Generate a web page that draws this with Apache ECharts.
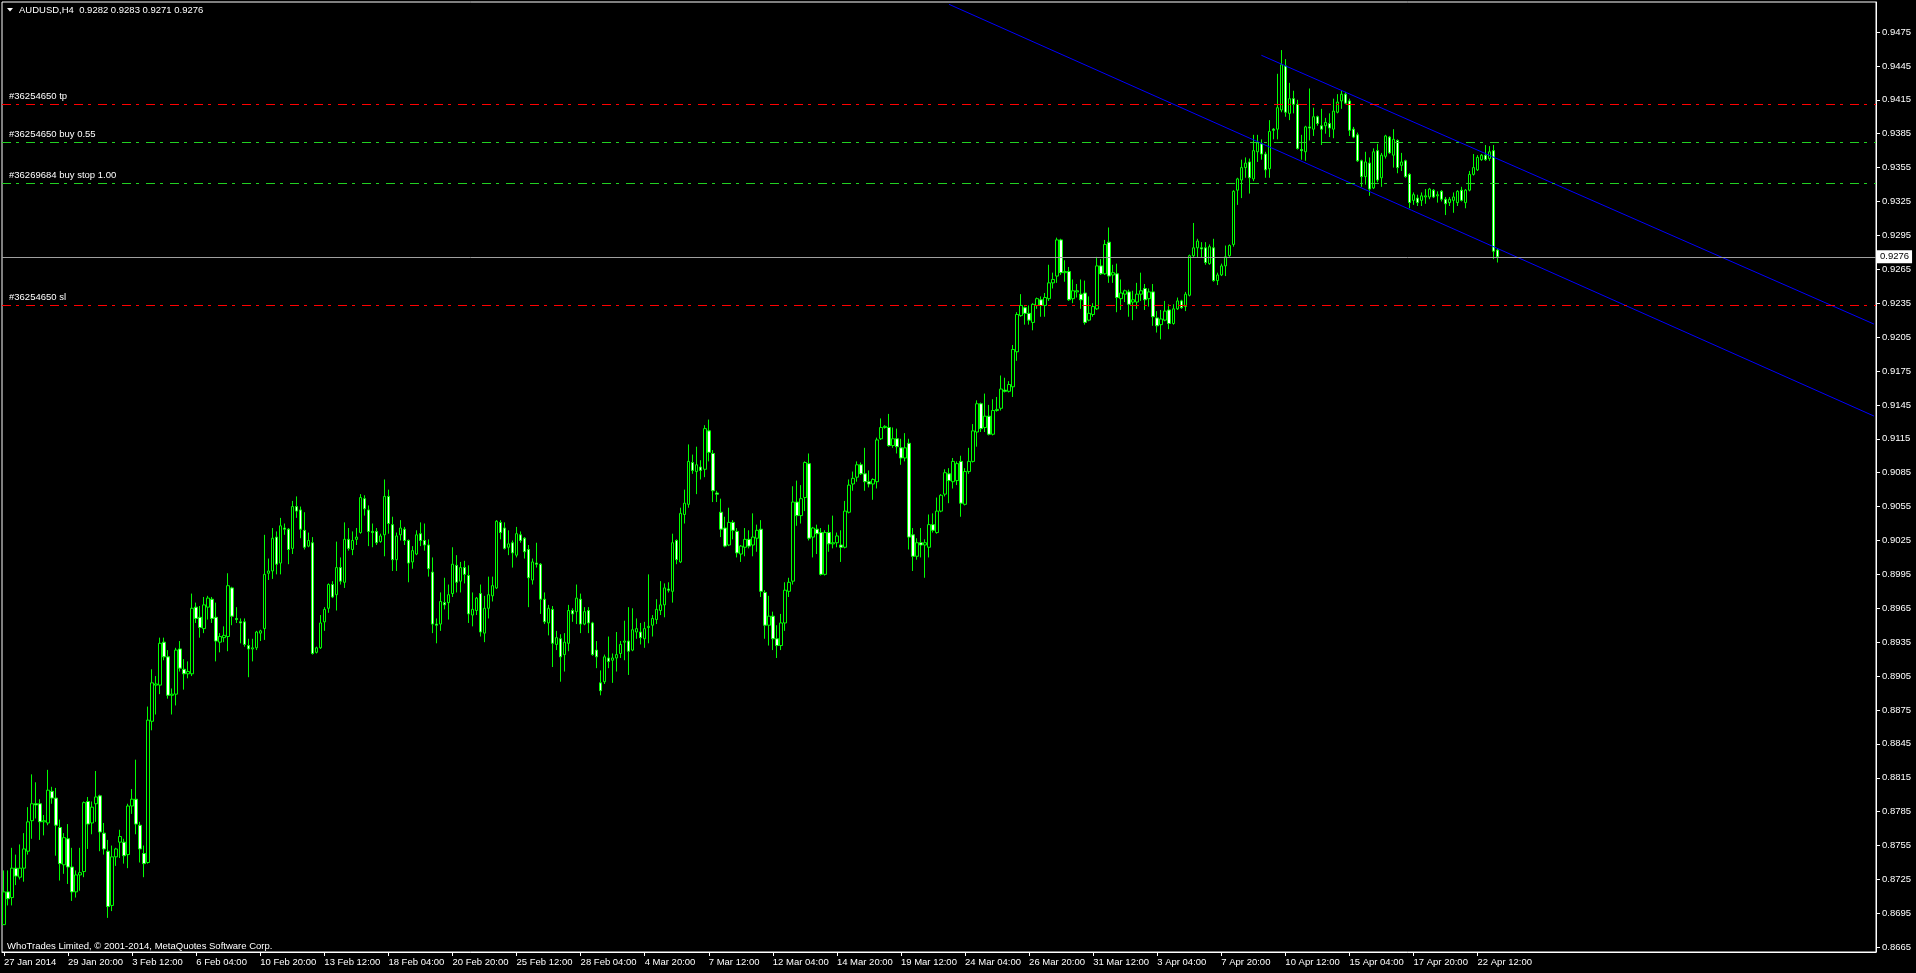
<!DOCTYPE html>
<html><head><meta charset="utf-8">
<script src="https://cdn.jsdelivr.net/npm/echarts@6/dist/echarts.min.js"></script>
<style>html,body{margin:0;padding:0;background:#000;overflow:hidden}#c{width:1916px;height:973px}</style>
</head><body><div id="c"></div>
<script>
const symbolName = 'AUDUSD,H4';
const copyright = 'WhoTrades Limited, \u00a9 2001-2014, MetaQuotes Software Corp.';

const opens = [
0.8685,0.8714,0.8709,0.8735,0.8727,0.8735,0.8750,0.8777,0.8792,0.8792,
0.8776,0.8775,0.8803,0.8797,0.8771,0.8738,0.8761,0.8736,0.8714,0.8729,
0.8732,0.8794,0.8775,0.8792,0.8799,0.8766,0.8750,0.8702,0.8745,0.8758,
0.8758,0.8747,0.8790,0.8796,0.8773,0.8748,0.8740,0.8865,0.8897,0.8897,
0.8935,0.8922,0.8888,0.8889,0.8929,0.8911,0.8907,0.8907,0.8966,0.8957,
0.8947,0.8966,0.8973,0.8957,0.8935,0.8939,0.8940,0.8983,0.8956,0.8953,
0.8953,0.8932,0.8929,0.8930,0.8943,0.8947,0.8996,0.8998,0.9028,0.9005,
0.9036,0.9035,0.9018,0.9055,0.9052,0.9034,0.9020,0.9023,0.8926,0.8930,
0.8953,0.8965,0.8986,0.8977,0.9001,0.8988,0.9026,0.9017,0.9026,0.9032,
0.9062,0.9052,0.9033,0.9033,0.9024,0.9030,0.9064,0.9039,0.9008,0.9030,
0.9035,0.9025,0.9006,0.9013,0.9031,0.9025,0.9021,0.8997,0.8951,0.8951,
0.8970,0.8970,0.8978,0.9003,0.8989,0.9001,0.8994,0.8959,0.8963,0.8978,
0.8943,0.8965,0.8976,0.8983,0.9041,0.9036,0.9019,0.9023,0.9012,0.9030,
0.9027,0.9017,0.8990,0.9005,0.9004,0.8973,0.8952,0.8964,0.8933,0.8938,
0.8924,0.8934,0.8963,0.8962,0.8973,0.8951,0.8963,0.8952,0.8928,0.8899,
0.8900,0.8921,0.8919,0.8921,0.8925,0.8935,0.8936,0.8928,0.8944,0.8944,
0.8938,0.8948,0.8950,0.8955,0.8963,0.8968,0.8982,0.8980,0.9025,0.9006,
0.9048,0.9057,0.9094,0.9086,0.9090,0.9088,0.9122,0.9102,0.9067,0.9050,
0.9036,0.9021,0.9041,0.9033,0.9013,0.9019,0.9026,0.9021,0.9027,0.9035,
0.8979,0.8950,0.8958,0.8938,0.8932,0.8952,0.8980,0.8989,0.9059,0.9047,
0.9063,0.9093,0.9028,0.9035,0.9032,0.8995,0.9032,0.9022,0.9023,0.9021,
0.9019,0.9050,0.9075,0.9081,0.9092,0.9084,0.9077,0.9075,0.9077,0.9115,
0.9125,0.9125,0.9109,0.9115,0.9107,0.9098,0.9111,0.9030,0.9011,0.9023,
0.9021,0.9019,0.9039,0.9032,0.9051,0.9066,0.9084,0.9077,0.9078,0.9095,
0.9057,0.9086,0.9095,0.9121,0.9146,0.9125,0.9135,0.9119,0.9140,0.9142,
0.9158,0.9157,0.9161,0.9192,0.9224,0.9231,0.9226,0.9218,0.9233,0.9238,
0.9233,0.9239,0.9253,0.9259,0.9291,0.9262,0.9263,0.9239,0.9245,0.9243,
0.9244,0.9220,0.9225,0.9230,0.9268,0.9261,0.9289,0.9260,0.9261,0.9239,
0.9243,0.9245,0.9236,0.9236,0.9243,0.9248,0.9239,0.9245,0.9222,0.9216,
0.9220,0.9229,0.9217,0.9230,0.9237,0.9232,0.9242,0.9277,0.9284,0.9284,
0.9284,0.9270,0.9284,0.9255,0.9260,0.9268,0.9277,0.9287,0.9335,0.9344,
0.9355,0.9360,0.9345,0.9369,0.9376,0.9367,0.9354,0.9389,0.9389,0.9406,
0.9445,0.9403,0.9416,0.9411,0.9371,0.9369,0.9391,0.9389,0.9400,0.9392,
0.9392,0.9394,0.9389,0.9404,0.9414,0.9420,0.9414,0.9389,0.9384,0.9361,
0.9347,0.9359,0.9337,0.9370,0.9346,0.9365,0.9382,0.9366,0.9379,0.9357,
0.9361,0.9349,0.9326,0.9328,0.9326,0.9329,0.9329,0.9335,0.9330,0.9334,
0.9327,0.9324,0.9326,0.9324,0.9335,0.9324,0.9335,0.9349,0.9353,0.9362,
0.9366,0.9363,0.9370,0.9282];

const closes = [
0.8714,0.8708,0.8735,0.8728,0.8735,0.8752,0.8776,0.8792,0.8791,0.8776,
0.8777,0.8804,0.8797,0.8773,0.8739,0.8762,0.8736,0.8714,0.8729,0.8731,
0.8793,0.8774,0.8789,0.8798,0.8767,0.8752,0.8701,0.8745,0.8752,0.8763,
0.8746,0.8790,0.8796,0.8774,0.8752,0.8739,0.8866,0.8899,0.8898,0.8934,
0.8922,0.8888,0.8889,0.8928,0.8912,0.8907,0.8909,0.8965,0.8956,0.8948,
0.8968,0.8974,0.8956,0.8936,0.8940,0.8941,0.8985,0.8958,0.8955,0.8952,
0.8933,0.8929,0.8930,0.8944,0.8945,0.8995,0.8998,0.9027,0.9004,0.9038,
0.9035,0.9017,0.9055,0.9051,0.9035,0.9019,0.9025,0.8925,0.8930,0.8952,
0.8964,0.8986,0.8975,0.9001,0.8989,0.9026,0.9018,0.9025,0.9028,0.9063,
0.9053,0.9033,0.9032,0.9023,0.9029,0.9064,0.9040,0.9008,0.9029,0.9036,
0.9025,0.9005,0.9016,0.9030,0.9025,0.9021,0.9000,0.8951,0.8950,0.8971,
0.8968,0.8977,0.9004,0.8988,0.9001,0.8995,0.8960,0.8964,0.8974,0.8944,
0.8965,0.8977,0.8985,0.9042,0.9032,0.9018,0.9022,0.9014,0.9031,0.9025,
0.9015,0.8992,0.9006,0.9004,0.8973,0.8953,0.8965,0.8934,0.8939,0.8922,
0.8935,0.8963,0.8960,0.8974,0.8951,0.8962,0.8952,0.8924,0.8922,0.8892,
0.8922,0.8918,0.8921,0.8924,0.8933,0.8936,0.8927,0.8946,0.8947,0.8939,
0.8947,0.8949,0.8956,0.8964,0.8968,0.8983,0.8981,0.9023,0.9008,0.9049,
0.9058,0.9095,0.9087,0.9092,0.9087,0.9124,0.9103,0.9069,0.9066,0.9035,
0.9020,0.9041,0.9034,0.9014,0.9020,0.9026,0.9020,0.9028,0.9034,0.8980,
0.8950,0.8958,0.8938,0.8932,0.8952,0.8981,0.8988,0.9059,0.9047,0.9062,
0.9094,0.9027,0.9036,0.9031,0.8995,0.9032,0.9022,0.9023,0.9029,0.9019,
0.9051,0.9074,0.9080,0.9092,0.9084,0.9077,0.9075,0.9079,0.9114,0.9125,
0.9126,0.9109,0.9115,0.9108,0.9098,0.9107,0.9028,0.9011,0.9023,0.9021,
0.9023,0.9039,0.9034,0.9051,0.9065,0.9085,0.9078,0.9095,0.9093,0.9058,
0.9086,0.9095,0.9122,0.9146,0.9124,0.9135,0.9119,0.9140,0.9141,0.9159,
0.9157,0.9163,0.9194,0.9225,0.9233,0.9226,0.9220,0.9234,0.9239,0.9233,
0.9240,0.9253,0.9256,0.9291,0.9262,0.9263,0.9238,0.9246,0.9246,0.9238,
0.9218,0.9226,0.9232,0.9268,0.9261,0.9287,0.9259,0.9262,0.9240,0.9244,
0.9246,0.9234,0.9238,0.9243,0.9246,0.9238,0.9245,0.9223,0.9215,0.9221,
0.9228,0.9217,0.9230,0.9237,0.9231,0.9243,0.9277,0.9284,0.9290,0.9283,
0.9271,0.9285,0.9255,0.9260,0.9268,0.9276,0.9286,0.9334,0.9345,0.9355,
0.9359,0.9346,0.9370,0.9377,0.9367,0.9353,0.9387,0.9388,0.9408,0.9446,
0.9404,0.9416,0.9411,0.9372,0.9370,0.9391,0.9390,0.9400,0.9394,0.9389,
0.9395,0.9390,0.9405,0.9413,0.9420,0.9412,0.9388,0.9382,0.9361,0.9347,
0.9360,0.9336,0.9369,0.9344,0.9366,0.9383,0.9368,0.9380,0.9355,0.9360,
0.9347,0.9324,0.9331,0.9324,0.9330,0.9330,0.9336,0.9329,0.9331,0.9327,
0.9323,0.9327,0.9329,0.9334,0.9326,0.9335,0.9349,0.9355,0.9364,0.9366,
0.9362,0.9369,0.9281,0.9276];

const lows = [
0.8685,0.8702,0.8702,0.8720,0.8725,0.8723,0.8747,0.8761,0.8779,0.8760,
0.8764,0.8773,0.8792,0.8746,0.8724,0.8730,0.8721,0.8706,0.8709,0.8715,
0.8727,0.8752,0.8765,0.8776,0.8750,0.8747,0.8691,0.8697,0.8737,0.8744,
0.8739,0.8735,0.8783,0.8765,0.8740,0.8727,0.8739,0.8857,0.8871,0.8889,
0.8919,0.8885,0.8871,0.8879,0.8909,0.8893,0.8903,0.8905,0.8952,0.8939,
0.8943,0.8955,0.8952,0.8918,0.8926,0.8935,0.8927,0.8950,0.8952,0.8934,
0.8931,0.8904,0.8918,0.8928,0.8936,0.8937,0.8990,0.8991,0.8995,0.8995,
0.9030,0.9004,0.9013,0.9045,0.9027,0.9017,0.9019,0.8924,0.8925,0.8929,
0.8945,0.8961,0.8974,0.8963,0.8986,0.8983,0.9016,0.9012,0.9021,0.9031,
0.9047,0.9020,0.9019,0.9021,0.9023,0.9011,0.9031,0.8998,0.8998,0.9025,
0.9021,0.8988,0.9000,0.9012,0.9020,0.9016,0.8993,0.8943,0.8934,0.8945,
0.8964,0.8955,0.8975,0.8979,0.8979,0.8987,0.8952,0.8949,0.8959,0.8940,
0.8935,0.8956,0.8971,0.8982,0.9026,0.9017,0.9012,0.9001,0.9010,0.9023,
0.9009,0.8966,0.8986,0.9001,0.8960,0.8951,0.8941,0.8913,0.8928,0.8900,
0.8909,0.8927,0.8953,0.8951,0.8943,0.8950,0.8943,0.8923,0.8912,0.8888,
0.8898,0.8912,0.8899,0.8909,0.8921,0.8919,0.8906,0.8927,0.8938,0.8933,
0.8930,0.8934,0.8940,0.8951,0.8959,0.8957,0.8979,0.8970,0.9004,0.9005,
0.9040,0.9054,0.9084,0.9066,0.9079,0.9081,0.9095,0.9059,0.9059,0.9028,
0.9019,0.9020,0.9026,0.9010,0.9006,0.9011,0.9018,0.9011,0.9015,0.8975,
0.8938,0.8932,0.8928,0.8921,0.8928,0.8945,0.8975,0.8986,0.9038,0.9040,
0.9051,0.9025,0.9010,0.9013,0.8994,0.8994,0.9015,0.9018,0.9019,0.9006,
0.9018,0.9049,0.9069,0.9077,0.9083,0.9069,0.9072,0.9061,0.9071,0.9114,
0.9124,0.9108,0.9107,0.9102,0.9092,0.9095,0.9017,0.8998,0.9008,0.9010,
0.8992,0.9010,0.9032,0.9031,0.9050,0.9064,0.9058,0.9071,0.9074,0.9046,
0.9056,0.9084,0.9094,0.9108,0.9121,0.9121,0.9118,0.9118,0.9139,0.9140,
0.9156,0.9156,0.9152,0.9184,0.9223,0.9216,0.9216,0.9211,0.9230,0.9223,
0.9223,0.9237,0.9248,0.9253,0.9260,0.9254,0.9237,0.9235,0.9240,0.9230,
0.9216,0.9219,0.9223,0.9229,0.9260,0.9260,0.9253,0.9253,0.9227,0.9229,
0.9236,0.9223,0.9220,0.9230,0.9237,0.9229,0.9232,0.9215,0.9209,0.9203,
0.9219,0.9212,0.9216,0.9229,0.9230,0.9228,0.9241,0.9275,0.9275,0.9275,
0.9269,0.9269,0.9254,0.9251,0.9259,0.9259,0.9276,0.9285,0.9322,0.9328,
0.9346,0.9332,0.9343,0.9360,0.9362,0.9346,0.9346,0.9380,0.9380,0.9404,
0.9400,0.9397,0.9403,0.9371,0.9362,0.9361,0.9379,0.9383,0.9392,0.9375,
0.9385,0.9382,0.9381,0.9403,0.9407,0.9411,0.9383,0.9381,0.9360,0.9338,
0.9340,0.9330,0.9336,0.9342,0.9338,0.9363,0.9367,0.9355,0.9350,0.9352,
0.9346,0.9319,0.9322,0.9321,0.9321,0.9323,0.9327,0.9328,0.9324,0.9325,
0.9313,0.9321,0.9315,0.9321,0.9325,0.9319,0.9334,0.9348,0.9352,0.9361,
0.9361,0.9361,0.9274,0.9271];

const highs = [
0.8733,0.8733,0.8753,0.8747,0.8756,0.8766,0.8789,0.8818,0.8811,0.8796,
0.8782,0.8822,0.8807,0.8806,0.8778,0.8766,0.8774,0.8753,0.8733,0.8753,
0.8794,0.8798,0.8794,0.8821,0.8800,0.8775,0.8760,0.8755,0.8753,0.8769,
0.8761,0.8792,0.8805,0.8831,0.8776,0.8755,0.8878,0.8911,0.8905,0.8939,
0.8939,0.8928,0.8894,0.8930,0.8936,0.8920,0.8918,0.8978,0.8970,0.8967,
0.8975,0.8976,0.8975,0.8970,0.8943,0.8949,0.8996,0.8984,0.8966,0.8956,
0.8956,0.8938,0.8938,0.8945,0.8946,0.9030,0.9009,0.9036,0.9033,0.9045,
0.9040,0.9036,0.9060,0.9064,0.9055,0.9050,0.9032,0.9028,0.8931,0.8959,
0.8966,0.8987,0.8989,0.9024,0.9010,0.9041,0.9036,0.9033,0.9036,0.9066,
0.9065,0.9056,0.9040,0.9036,0.9031,0.9079,0.9070,0.9046,0.9032,0.9043,
0.9037,0.9026,0.9020,0.9034,0.9041,0.9040,0.9026,0.9010,0.8956,0.8979,
0.8992,0.8986,0.9019,0.9012,0.9006,0.9007,0.9003,0.8979,0.8975,0.8986,
0.8976,0.8993,0.8993,0.9043,0.9043,0.9041,0.9034,0.9025,0.9037,0.9033,
0.9028,0.9021,0.9009,0.9023,0.9005,0.8979,0.8968,0.8967,0.8945,0.8942,
0.8943,0.8968,0.8965,0.8986,0.8978,0.8966,0.8966,0.8953,0.8936,0.8910,
0.8924,0.8940,0.8925,0.8944,0.8936,0.8954,0.8966,0.8965,0.8956,0.8952,
0.8953,0.8995,0.8959,0.8973,0.8989,0.8987,0.8988,0.9031,0.9026,0.9054,
0.9070,0.9110,0.9101,0.9108,0.9096,0.9127,0.9132,0.9105,0.9069,0.9062,
0.9046,0.9054,0.9043,0.9036,0.9021,0.9036,0.9034,0.9049,0.9039,0.9043,
0.8981,0.8976,0.8962,0.8950,0.8960,0.8988,0.8992,0.9073,0.9078,0.9074,
0.9095,0.9102,0.9037,0.9039,0.9036,0.9034,0.9039,0.9047,0.9032,0.9034,
0.9060,0.9079,0.9086,0.9095,0.9094,0.9107,0.9087,0.9080,0.9116,0.9133,
0.9127,0.9137,0.9125,0.9124,0.9115,0.9120,0.9115,0.9036,0.9027,0.9036,
0.9026,0.9048,0.9049,0.9063,0.9066,0.9088,0.9089,0.9098,0.9095,0.9100,
0.9089,0.9107,0.9128,0.9149,0.9147,0.9155,0.9145,0.9150,0.9152,0.9171,
0.9169,0.9166,0.9198,0.9227,0.9243,0.9232,0.9233,0.9235,0.9240,0.9241,
0.9244,0.9269,0.9262,0.9293,0.9292,0.9273,0.9267,0.9256,0.9252,0.9256,
0.9255,0.9241,0.9235,0.9276,0.9274,0.9291,0.9302,0.9269,0.9270,0.9256,
0.9247,0.9247,0.9246,0.9253,0.9262,0.9252,0.9248,0.9252,0.9228,0.9229,
0.9237,0.9234,0.9234,0.9240,0.9238,0.9245,0.9278,0.9306,0.9292,0.9289,
0.9289,0.9287,0.9292,0.9262,0.9270,0.9286,0.9287,0.9335,0.9346,0.9362,
0.9364,0.9363,0.9384,0.9384,0.9380,0.9369,0.9397,0.9390,0.9438,0.9459,
0.9451,0.9430,0.9423,0.9415,0.9384,0.9392,0.9425,0.9408,0.9401,0.9407,
0.9399,0.9403,0.9416,0.9420,0.9423,0.9422,0.9416,0.9391,0.9386,0.9362,
0.9369,0.9364,0.9372,0.9376,0.9368,0.9384,0.9383,0.9389,0.9380,0.9368,
0.9362,0.9350,0.9333,0.9331,0.9333,0.9336,0.9337,0.9336,0.9334,0.9335,
0.9329,0.9329,0.9333,0.9335,0.9338,0.9336,0.9352,0.9367,0.9366,0.9367,
0.9375,0.9374,0.9375,0.9283];

// x axis labels, one every 16 H4 bars
const tickLabels = ['27 Jan 2014','29 Jan 20:00','3 Feb 12:00','6 Feb 04:00','10 Feb 20:00','13 Feb 12:00',
'18 Feb 04:00','20 Feb 20:00','25 Feb 12:00','28 Feb 04:00','4 Mar 20:00','7 Mar 12:00','12 Mar 04:00',
'14 Mar 20:00','19 Mar 12:00','24 Mar 04:00','26 Mar 20:00','31 Mar 12:00','3 Apr 04:00','7 Apr 20:00',
'10 Apr 12:00','15 Apr 04:00','17 Apr 20:00','22 Apr 12:00'];
const barsPerLabel = 16;

const priceTicks = [0.8665,0.8695,0.8725,0.8755,0.8785,0.8815,0.8845,0.8875,0.8905,0.8935,0.8965,0.8995,
0.9025,0.9055,0.9085,0.9115,0.9145,0.9175,0.9205,0.9235,0.9265,0.9295,0.9325,0.9355,0.9385,0.9415,0.9445,0.9475];

// order levels
const orderNames  = ['#36254650 tp', '#36254650 buy 0.55', '#36269684 buy stop 1.00', '#36254650 sl'];
const orderPrices = [0.9411, 0.9377, 0.9341, 0.9233];
const orderKinds  = ['stop', 'entry', 'entry', 'stop'];

// trend channel endpoints [bar index, price]
const channelUpper = [[314, 0.94544], [467, 0.92165]];
const channelLower = [[236, 0.94995], [467, 0.91351]];

const totalSlots = 468;   // bars + empty right-hand shift area

const FONT = "'Liberation Sans', Arial, sans-serif";
const FS = 9.5;
const fmt = v => v.toFixed(4);
const last = opens.length - 1;

const cats = Array.from({length: totalSlots}, (_, i) => String(i));
const candleData = opens.map((o, i) => [o, closes[i], Math.min(lows[i], o, closes[i]), Math.max(highs[i], o, closes[i])]);
const showLabel = (i) => i % barsPerLabel === 0 && (i / barsPerLabel) < tickLabels.length;

const kindColor = {stop: '#ff0000', entry: '#22d022'};
const orderMarks = orderNames.map((name, k) => ({
  yAxis: orderPrices[k],
  lineStyle: {color: kindColor[orderKinds[k]], type: [9, 5, 3, 7], width: 1},
  label: {show: true, position: 'insideStartTop', formatter: name, color: '#ffffff',
          fontFamily: FONT, fontSize: FS, distance: [7, 3]}
}));
orderMarks.push({
  yAxis: closes[last],
  lineStyle: {color: '#a0a0a0', type: 'solid', width: 1},
  label: {show: true, position: 'end', formatter: fmt(closes[last]), color: '#000000',
          backgroundColor: '#ffffff', padding: [2, 3, 1, 3], fontFamily: FONT, fontSize: FS, distance: 1}
});

const chart = echarts.init(document.getElementById('c'), null, {renderer: 'canvas'});
chart.setOption({
  backgroundColor: '#000000',
  animation: false,
  grid: {left: 2, right: 40, top: 2, bottom: 21, show: true, borderColor: '#ffffff', borderWidth: 1, backgroundColor: '#000000'},
  xAxis: {
    type: 'category', data: cats, boundaryGap: true,
    axisLine: {show: true, lineStyle: {color: '#ffffff', width: 1}},
    axisTick: {show: true, alignWithLabel: true, interval: (i) => showLabel(i), length: 4, lineStyle: {color: '#ffffff'}},
    axisLabel: {interval: (i) => showLabel(i), formatter: (v, i) => tickLabels[Math.round(Number(v) / barsPerLabel)] || '',
                color: '#ffffff', fontFamily: FONT, fontSize: FS, align: 'left', margin: 5, hideOverlap: false},
    splitLine: {show: false}
  },
  yAxis: {
    type: 'value', position: 'right', min: 0.86608, max: 0.950155,
    axisLine: {show: true, lineStyle: {color: '#ffffff', width: 1}},
    axisTick: {show: true, length: 4, customValues: priceTicks, lineStyle: {color: '#ffffff'}},
    axisLabel: {customValues: priceTicks, formatter: v => fmt(v), color: '#ffffff', fontFamily: FONT, fontSize: FS, margin: 6},
    splitLine: {show: false}
  },
  graphic: [
    {type: 'polygon', shape: {points: [[7, 8], [13, 8], [10, 11.5]]}, style: {fill: '#ffffff'}},
    {type: 'text', x: 19, y: 10.5, style: {
      text: symbolName + '  ' + fmt(opens[last]) + ' ' + fmt(highs[last]) + ' ' + fmt(lows[last]) + ' ' + fmt(closes[last]),
      fill: '#ffffff', font: FS + 'px ' + FONT, verticalAlign: 'middle'}},
    {type: 'text', x: 7, y: 946, style: {text: copyright, fill: '#ffffff', font: FS + 'px ' + FONT, verticalAlign: 'middle'}}
  ],
  series: [
    {
      type: 'candlestick', data: candleData, barWidth: 3, silent: true,
      itemStyle: {color: '#000000', color0: '#ffffff', borderColor: '#00ff00', borderColor0: '#00ff00', borderWidth: 1},
      z: 2
    },
    {
      type: 'line', data: [], silent: true, z: 3,
      markLine: {symbol: 'none', silent: true, animation: false, precision: 6, data: orderMarks}
    },
    {type: 'line', data: channelUpper, showSymbol: false, symbol: 'none', silent: true,
     lineStyle: {color: '#0000ff', width: 1}, z: 3},
    {type: 'line', data: channelLower, showSymbol: false, symbol: 'none', silent: true,
     lineStyle: {color: '#0000ff', width: 1}, z: 3}
  ]
});
</script>
</body></html>
